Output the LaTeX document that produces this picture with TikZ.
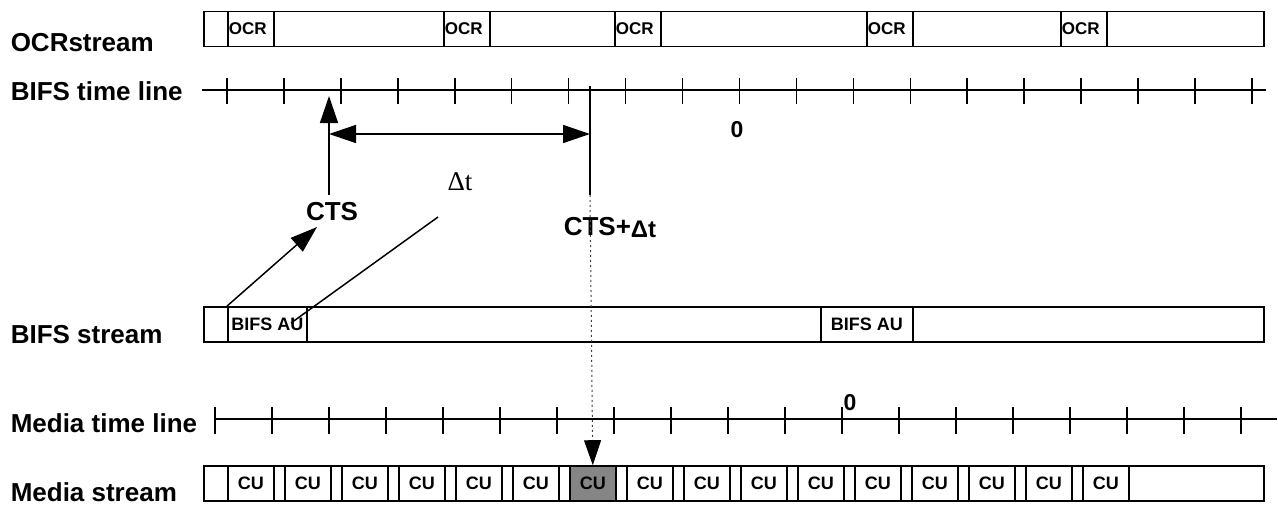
\documentclass[tikz,border=0pt]{standalone}
\usepackage{fontspec}
\setmainfont{Liberation Sans}
\newfontfamily\serifdelta{Liberation Serif}
\usetikzlibrary{arrows.meta}
\begin{document}
\begin{tikzpicture}[x=1pt,y=-1pt,line width=1.5pt,
  lbl/.style={font=\fontsize{26}{30}\selectfont\bfseries,anchor=base west,inner sep=0pt},
  strm/.style={draw,line width=1.5pt,rectangle,inner sep=0pt,minimum width=1060pt,minimum height=35pt},
  ocrbox/.style={draw,line width=1.6pt,rectangle,inner xsep=1pt,inner ysep=0pt,text width=44pt,minimum height=35pt,align=left,font=\fontsize{17}{17}\selectfont\bfseries,anchor=west},
  cubox/.style={draw,line width=1.6pt,rectangle,inner sep=0pt,minimum width=46pt,minimum height=35pt,font=\fontsize{18}{18}\selectfont\bfseries,anchor=west},
  aubox/.style={draw,line width=1.8pt,rectangle,inner sep=0pt,minimum height=35pt,font=\fontsize{18}{18}\selectfont\bfseries,anchor=west},
  bigtip/.style={-{Triangle[length=27pt,width=18pt]}},
  tk/.style={line width=1.5pt},
  btxt/.style={font=\fontsize{26}{26}\selectfont\bfseries,inner sep=0pt},
]
\fill[white] (0,0) rectangle (1278,506);
\useasboundingbox (0,0) rectangle (1278,506);

% labels
\node[lbl] (lOCR) at (10,51.5) {OCRstream};
\node[lbl] (lBT) at (10,100.5) {BIFS time line};
\node[lbl] (lBS) at (10,343.5) {BIFS stream};
\node[lbl] (lMT) at (10,432.5) {Media time line};
\node[lbl] (lMS) at (10,501.5) {Media stream};

% OCR stream
\node[strm] (ocr) at (734,29) {};
\foreach \x [count=\i] in {227,443,614,866,1060}
  \node[ocrbox] (ocr\i) at (\x,29) {OCR};

% BIFS time line
\coordinate (btL) at (202,90);
\coordinate (btR) at (1266,90);
\draw[tk] (btL) -- (btR);
\foreach \k in {0,...,18}
  \draw[tk] ({227+56.94*\k},78) -- ++(0,26);
\node[font=\fontsize{23}{23}\selectfont\bfseries,inner sep=0pt] (z1) at (737,130) {0};

% CTS arrows
\coordinate (ctsTip) at (329,96);
\coordinate (ctsBot) at (329,195);
\draw[bigtip] (ctsBot) -- (ctsTip);
\coordinate (dtTop) at (590,86);
\coordinate (dtBot) at (590,195);
\draw (dtTop) -- (dtBot);
\coordinate (dA) at (329,134);
\coordinate (dB) at (590,134);
\draw[{Triangle[length=27pt,width=18pt]}-{Triangle[length=27pt,width=18pt]}] (dA) -- (dB);

\node[font=\fontsize{27}{27}\selectfont\serifdelta,inner sep=0pt] (dt) at (460,182) {Δt};
\node[btxt] (cts) at (332,212) {CTS};
\node[btxt,anchor=base west] (ctsdt) at (563,235) {CTS+\raisebox{-2pt}{\fontsize{24}{24}\selectfont Δt}};

% BIFS stream
\node[strm] (bifs) at (734,324.5) {};
\node[aubox,minimum width=79pt] (au1) at (227,324.5) {BIFS AU};
\node[aubox,minimum width=92pt] (au2) at (820,324.5) {BIFS AU};

\coordinate (ctsArr) at (317,227);
\draw[bigtip] (au1.north west) -- (ctsArr);
\coordinate (l1) at (438,217);
\coordinate (l2) at (291,323);
\draw (l1) -- (l2);

% Media time line
\coordinate (mtL) at (215,419);
\coordinate (mtR) at (1277,419);
\draw[tk] (mtL) -- (mtR);
\foreach \k in {0,...,18}
  \draw[tk] ({215+57*\k},407) -- ++(0,27);
\node[font=\fontsize{23}{23}\selectfont\bfseries,inner sep=0pt] (z2) at (850,403) {0};

% Media stream
\node[strm] (media) at (734,483.5) {};
\foreach \k in {0,...,5,7,8,...,15}
  \node[cubox] (cu\k) at ({227+57*\k},483.5) {CU};
\node[cubox,fill=black!48] (cu6) at ({227+57*6},483.5) {CU};

\draw[line width=1pt,black!75,dash pattern=on 2pt off 3pt,-{Triangle[length=25pt,width=17pt,black]}] (dtBot) -- (cu6.north);
\end{tikzpicture}
\end{document}
